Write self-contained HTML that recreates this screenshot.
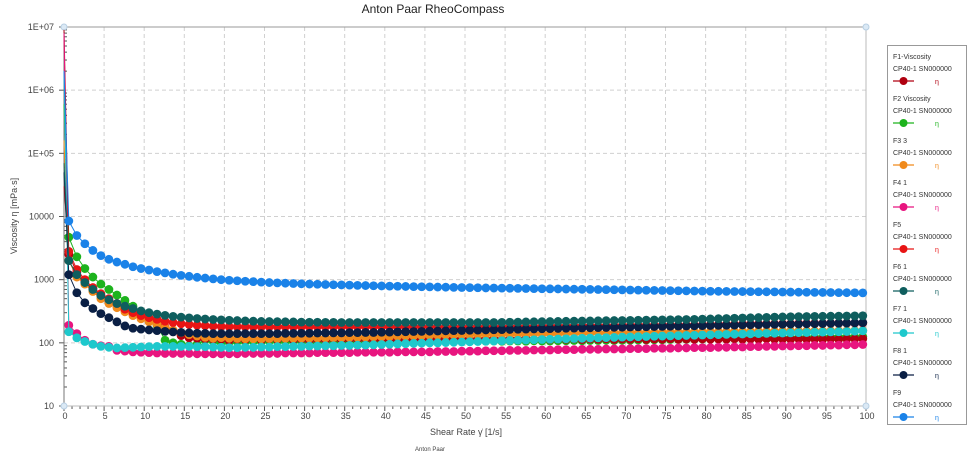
<!DOCTYPE html>
<html><head><meta charset="utf-8"><style>
html,body{margin:0;padding:0;background:#fff;}
svg{display:block;font-family:"Liberation Sans",sans-serif;}
</style></head><body>
<svg id="chart" width="973" height="455" xmlns="http://www.w3.org/2000/svg">
<text x="433" y="13" text-anchor="middle" font-size="12" fill="#222">Anton Paar RheoCompass</text>
<g id="grid"></g>
<g id="axes"></g>
<g id="series"></g>
<text x="0" y="0" transform="translate(17,216) rotate(-90)" text-anchor="middle" font-size="9" fill="#444">Viscosity η  [mPa·s]</text>
<text x="466" y="435" text-anchor="middle" font-size="9" fill="#444">Shear Rate γ̇  [1/s]</text>
<text x="430" y="451" text-anchor="middle" font-size="6" fill="#444">Anton Paar</text>
<g id="legend"></g>
</svg>
<script>
const xTicks=[0,5,10,15,20,25,30,35,40,45,50,55,60,65,70,75,80,85,90,95,100];
const yTickLabels=["10","100","1000","10000","1E+05","1E+06","1E+07"];
const yTickValues=[10,100,1000,10000,1e5,1e6,1e7];
const seriesNames=["F1-Viscosity","F2 Viscosity","F3 3","F4 1","F5","F6 1","F7 1","F8 1","F9"];
const seriesColors=["#b00010","#1db31d","#f08a1c","#e8157f","#e81414","#0f5e5e","#1ec8cc","#0a1f44","#1a82e8"];
const startValues=[9e6,6e5,1.6e5,8e6,3e4,7e4,2e6,5e4,2e6];
const f1=[2500,1300,950,720,560,460,390,330,290,260,230,210,180,150,130,120,118,116,115,115,
110,115,112,118,111,116,113,117,112,115,110,115,112,118,111,116,113,117,112,115,
112,114,113,116,112,115,114,117,113,115,112,114,113,116,112,115,114,117,113,115,
113,115,114,116,113,115,114,116,113,115,114,116,113,115,114,116,114,115,114,116,
114,115,114,116,114,115,114,116,114,115,114,116,114,115,114,116,114,115,115,116];
const f2=[4700,2300,1500,1100,850,700,570,470,380,310,250,190,110,100,95,90,95,110,105,100,
102,104,103,105,104,106,105,104,106,105,102,104,103,105,104,106,105,104,106,105,
104,105,104,106,105,106,106,105,107,106,105,106,106,107,106,107,107,106,108,107,
107,108,108,109,108,109,109,110,109,110,110,111,111,112,112,113,113,114,114,115,
115,116,116,117,117,118,118,119,119,120,120,121,121,122,122,123,123,124,124,125];
const f3=[2000,1100,850,650,500,420,360,310,270,240,215,195,175,160,145,135,128,122,118,121,
118,117,116,116,116,117,117,118,118,119,119,120,120,121,121,122,122,123,124,125,
126,127,128,129,130,131,132,133,134,134,135,135,136,136,137,137,138,138,139,139,
140,140,141,141,142,142,143,143,144,144,145,145,146,146,147,147,148,148,149,149,
150,150,150,151,151,151,152,152,152,153,153,153,154,154,154,155,155,155,156,156];
const f4=[190,140,110,95,90,88,76,74,72,71,70,69,68,68,68,68,67,67,67,67,
67,67,68,68,68,68,68,69,69,69,69,70,70,70,70,70,71,71,71,71,
71,72,72,72,72,72,73,73,73,74,74,74,75,75,75,76,76,76,77,77,
77,78,78,78,79,79,79,80,80,80,81,81,81,82,82,82,83,83,84,84,
84,85,85,86,86,87,87,88,88,89,89,90,90,91,91,92,92,93,93,94];
const f5=[2800,1450,1000,750,600,500,420,340,300,270,250,235,220,210,200,195,190,187,184,181,
180,180,180,180,180,180,180,180,180,180,180,180,180,180,180,180,180,180,180,180,
180,180,180,180,180,180,180,180,180,180,180,180,180,180,180,180,180,181,181,182,
182,183,183,184,184,185,185,186,186,187,187,188,188,189,189,190,190,191,191,192,
193,194,195,196,197,198,199,200,200,201,201,202,202,203,203,204,204,205,205,206];
const f6=[2000,1200,900,700,560,480,420,380,350,320,300,285,272,262,255,248,243,238,234,231,
228,225,222,220,218,217,216,215,214,213,212,212,211,211,210,210,210,210,210,210,
210,210,210,210,210,210,210,210,210,210,210,210,210,210,211,212,213,214,215,216,
217,218,219,220,221,222,223,224,225,226,227,228,229,230,231,232,233,234,235,237,
239,241,243,245,247,249,251,253,255,257,259,260,261,262,263,264,265,266,267,268];
const f7=[150,120,105,95,88,85,83,84,85,86,87,88,88,88,88,88,87,87,86,85,
84,84,85,85,86,86,87,87,88,88,89,89,90,90,91,91,92,92,93,94,
95,96,97,98,99,100,100,101,102,103,104,105,106,107,108,109,110,111,112,113,
114,115,116,117,118,119,120,121,122,123,124,125,126,127,128,129,130,131,132,133,
134,135,136,137,138,139,140,141,142,143,144,145,146,147,148,149,150,151,153,155];
const f8=[1200,620,430,350,290,250,215,185,170,165,160,156,152,149,146,144,142,141,140,140,
140,140,140,140,140,140,140,141,141,142,142,143,143,144,144,145,145,146,146,147,
148,149,150,151,152,153,154,155,156,157,158,159,160,161,162,163,164,165,166,167,
168,169,170,171,172,173,174,175,176,177,178,179,180,181,182,183,184,185,186,187,
188,189,190,191,192,193,194,195,196,197,198,199,200,201,202,203,204,205,207,209];
const f9=[8500,5000,3700,2900,2400,2100,1900,1750,1600,1500,1420,1340,1280,1220,1170,1130,1090,1060,1030,1000,
980,960,945,930,915,900,890,880,870,860,852,845,838,831,825,819,813,807,801,796,
791,786,781,776,772,768,764,760,756,752,748,744,740,737,734,731,728,725,722,719,
716,713,710,707,704,701,698,695,692,689,686,683,680,677,674,671,668,665,662,659,
656,654,652,650,648,646,644,642,640,638,636,634,632,630,628,626,624,622,620,618];
const seriesValues=[f1,f2,f3,f4,f5,f6,f7,f8,f9];
const drawOrder=[1,0,2,4,3,6,7,5,8];

const NS="http://www.w3.org/2000/svg";
const X0=64,X1=866,Y0=406,Y1=27;
const xMin=0,xMax=100,yMin=1,yMax=7;
function sx(v){return X0+(v-xMin)/(xMax-xMin)*(X1-X0);}
function sy(v){return Y0-(Math.log10(v)-yMin)/(yMax-yMin)*(Y0-Y1);}
function mk(tag,attrs,parent){const e=document.createElementNS(NS,tag);for(const k in attrs)e.setAttribute(k,attrs[k]);parent.appendChild(e);return e;}
const grid=document.getElementById('grid'),axes=document.getElementById('axes'),ser=document.getElementById('series'),leg=document.getElementById('legend');

xTicks.forEach(t=>{
  if(t>0&&t<100){const l=mk('line',{x1:sx(t),x2:sx(t),y1:Y1,y2:Y0,stroke:'#d0d0d0','stroke-dasharray':'4,3','stroke-width':1},grid);
  
  }
  const tl=mk('line',{x1:sx(t),x2:sx(t),y1:Y0,y2:Y0+5,stroke:'#555'},axes);
  
  
  const tx=mk('text',{x:sx(t)+1,y:Y0+13,'text-anchor':'middle','font-size':9,fill:'#444'},axes);
  tx.textContent=t;
  
  
});
for(let m=0;m<100;m++){if(m%5!==0){mk('line',{x1:sx(m),x2:sx(m),y1:Y0,y2:Y0+3,stroke:'#555'},axes);}}
yTickValues.forEach((v,i)=>{
  if(i>0&&i<yTickValues.length-1){const l=mk('line',{x1:X0,x2:X1,y1:sy(v),y2:sy(v),stroke:'#d0d0d0','stroke-dasharray':'4,3'},grid);
  
  }
  mk('line',{x1:X0-5,x2:X0,y1:sy(v),y2:sy(v),stroke:'#555'},axes);
  const tx=mk('text',{x:X0-10,y:sy(v)+3,'text-anchor':'end','font-size':9,fill:'#444'},axes);
  tx.textContent=yTickLabels[i];
  
  
  if(i<yTickValues.length-1){for(let k=2;k<=9;k++){mk('line',{x1:X0,x2:X0+3,y1:sy(v*k),y2:sy(v*k),stroke:'#555'},axes);}}
});
mk('line',{x1:X0,x2:X1,y1:Y1,y2:Y1,stroke:'#999'},axes);
mk('line',{x1:X1,x2:X1,y1:Y1,y2:Y0,stroke:'#bbb'},axes);
mk('line',{x1:X0,x2:X1,y1:Y0,y2:Y0,stroke:'#bbb'},axes);
mk('line',{x1:X0,x2:X0,y1:Y1,y2:Y0,stroke:'#777'},axes);
[[X0,Y1],[X1,Y1],[X0,Y0],[X1,Y0]].forEach(p=>mk('circle',{cx:p[0],cy:p[1],r:3,fill:'#dbe9f5',stroke:'#b8cfe3'},axes));

drawOrder.forEach(si=>{
  const vals=seriesValues[si],col=seriesColors[si];
  const g=mk('g',{},ser);
  
  
  let pts=[[sx(0),sy(startValues[si])]];
  vals.forEach((v,i)=>pts.push([sx(0.6+i),sy(v)]));
  mk('polyline',{points:pts.map(p=>p.join(',')).join(' '),fill:'none',stroke:col,'stroke-width':1},g);
  vals.forEach((v,i)=>{
    const c=mk('circle',{cx:sx(0.6+i),cy:sy(v),r:4.4,fill:col},g);
    
    
  });
});

mk('rect',{x:887.5,y:45.5,width:79,height:379,fill:'#fff',stroke:'#999'},leg);
seriesNames.forEach((n,i)=>{
  const y=45+i*42;
  const e=mk('g',{},leg);
  
  
  const t1=mk('text',{x:893,y:y+14,'font-size':7,fill:'#333'},e);t1.textContent=n;
  const t2=mk('text',{x:893,y:y+26,'font-size':7,fill:'#333'},e);t2.textContent="CP40-1 SN000000";
  mk('line',{x1:893,x2:914,y1:y+36,y2:y+36,stroke:seriesColors[i],'stroke-width':1.2},e);
  mk('circle',{cx:903.5,cy:y+36,r:4,fill:seriesColors[i]},e);
  const t3=mk('text',{x:935,y:y+39,'font-size':7,fill:seriesColors[i]},e);t3.textContent="η";
});
</script>
</body></html>
